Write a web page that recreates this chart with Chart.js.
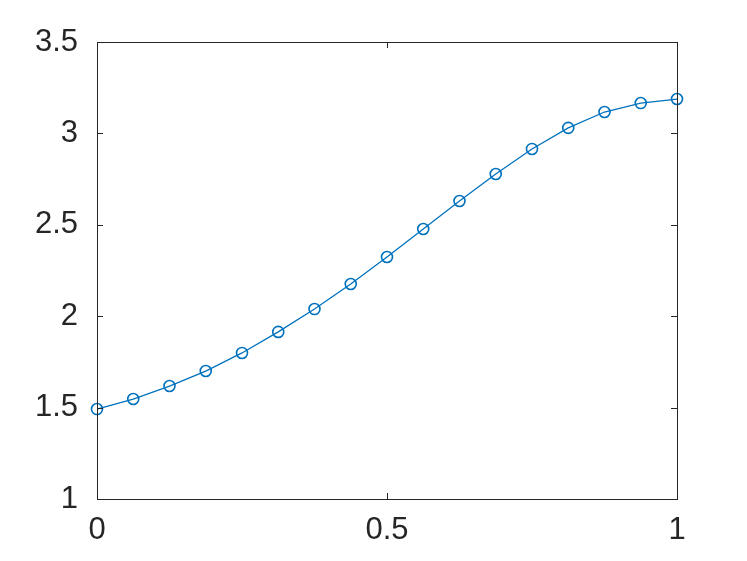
<!DOCTYPE html>
<html>
<head>
<meta charset="utf-8">
<script src="https://cdn.jsdelivr.net/npm/chart.js@4"></script>
<style>
  html, body { margin: 0; padding: 0; background: #fff; }
  #wrap { width: 747px; height: 561px; }
</style>
</head>
<body>
<div id="wrap"><canvas id="chart" width="747" height="561"></canvas></div>
<script>
const xValues = [0, 0.0625, 0.125, 0.1875, 0.25, 0.3125, 0.375, 0.4375, 0.5,
                 0.5625, 0.625, 0.6875, 0.75, 0.8125, 0.875, 0.9375, 1];
const yValues = [1.492, 1.547, 1.618, 1.700, 1.799, 1.914, 2.039, 2.176, 2.324,
                 2.477, 2.630, 2.778, 2.915, 3.030, 3.117, 3.166, 3.188];
const xTicks = [0, 0.5, 1];
const yTicks = [1, 1.5, 2, 2.5, 3, 3.5];

const axisColor = '#262626';

// MATLAB style box with ticks pointing inwards
const boxTicks = {
    id: 'boxTicks',
    afterDraw(chart) {
        const { ctx, chartArea: a, scales } = chart;
        const len = 6;
        ctx.save();
        ctx.strokeStyle = axisColor;
        ctx.lineWidth = 1;
        ctx.beginPath();
        xTicks.forEach(v => {
            const px = Math.round(scales.x.getPixelForValue(v)) + 0.5;
            ctx.moveTo(px, a.bottom); ctx.lineTo(px, a.bottom - len);
            ctx.moveTo(px, a.top); ctx.lineTo(px, a.top + len);
        });
        yTicks.forEach(v => {
            const py = Math.round(scales.y.getPixelForValue(v)) + 0.5;
            ctx.moveTo(a.left, py); ctx.lineTo(a.left + len, py);
            ctx.moveTo(a.right, py); ctx.lineTo(a.right - len, py);
        });
        ctx.stroke();
        ctx.strokeRect(Math.round(a.left) + 0.5, Math.round(a.top) + 0.5,
                       Math.round(a.right - a.left), Math.round(a.bottom - a.top));
        ctx.restore();
    }
};

const points = xValues.map((x, i) => ({ x: x, y: yValues[i] }));

new Chart(document.getElementById('chart'), {
    type: 'scatter',
    data: {
        datasets: [{
            data: points,
            showLine: true,
            borderColor: '#0072BD',
            borderWidth: 1.3,
            pointRadius: 5.5,
            pointBorderWidth: 1.6,
            pointBorderColor: '#0072BD',
            pointBackgroundColor: 'rgba(0,0,0,0)',
            clip: false
        }]
    },
    options: {
        responsive: false,
        animation: false,
        layout: { padding: { top: 42, right: 70, left: 0, bottom: 0 } },
        plugins: { legend: { display: false }, tooltip: { enabled: false } },
        scales: {
            x: {
                type: 'linear',
                min: 0, max: 1,
                afterBuildTicks: s => { s.ticks = xTicks.map(v => ({ value: v })); },
                afterFit: s => { s.height = 62; },
                grid: { display: false, drawTicks: false },
                border: { display: false },
                ticks: {
                    color: axisColor,
                    padding: 13,
                    font: { family: 'Liberation Sans', size: 31 },
                    callback: v => String(v)
                }
            },
            y: {
                type: 'linear',
                min: 1, max: 3.5,
                afterBuildTicks: s => { s.ticks = yTicks.map(v => ({ value: v })); },
                afterFit: s => { s.width = 97; },
                grid: { display: false, drawTicks: false },
                border: { display: false },
                ticks: {
                    color: axisColor,
                    padding: 19,
                    font: { family: 'Liberation Sans', size: 31 },
                    callback: v => String(v)
                }
            }
        }
    },
    plugins: [boxTicks]
});
</script>
</body>
</html>
